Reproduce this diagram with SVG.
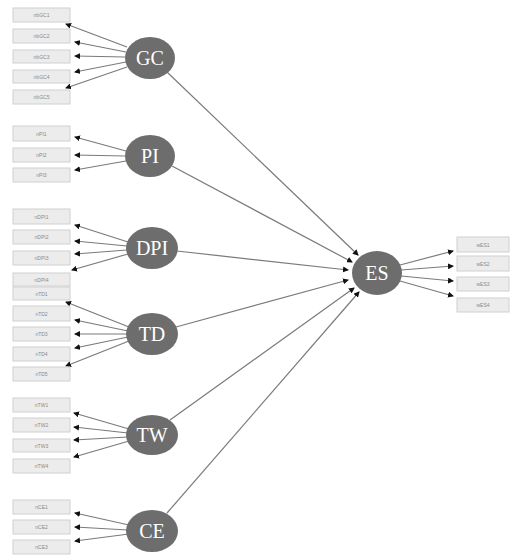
<svg xmlns="http://www.w3.org/2000/svg" width="510" height="557" viewBox="0 0 510 557">
<style>
.box rect{fill:#ececec;stroke:#d0d0d0;stroke-width:1}
.box text{font-family:"Liberation Sans",Arial,sans-serif;font-size:5px;fill:#8a8a8a;text-anchor:middle}
.lv ellipse{fill:#6d6d6d}
.lv text{font-family:"Liberation Serif","Times New Roman",serif;font-size:20px;fill:#ffffff;text-anchor:middle}
#connectors line{stroke:#7a7a7a;stroke-width:1.2;marker-end:url(#ah)}
</style>
<defs>
<marker id="ah" markerUnits="userSpaceOnUse" markerWidth="6" markerHeight="6" refX="5" refY="3" orient="auto">
<path d="M0,0 L6,3 L0,6 z" fill="#111"/>
</marker>
</defs>
<rect width="510" height="557" fill="#ffffff"/>
<g id="connectors">
<line x1="127" y1="47" x2="66" y2="24"/>
<line x1="126" y1="52" x2="75" y2="42"/>
<line x1="125" y1="57" x2="75" y2="56"/>
<line x1="126" y1="62" x2="75" y2="72"/>
<line x1="127" y1="67" x2="66" y2="88"/>
<line x1="126" y1="151" x2="75" y2="137"/>
<line x1="125" y1="156" x2="75" y2="155"/>
<line x1="126" y1="161" x2="75" y2="170"/>
<line x1="128" y1="242" x2="75" y2="225"/>
<line x1="127" y1="246" x2="75" y2="241"/>
<line x1="127" y1="250" x2="75" y2="254"/>
<line x1="128" y1="254" x2="72" y2="270"/>
<line x1="129" y1="327" x2="66" y2="302"/>
<line x1="128" y1="331" x2="75" y2="320"/>
<line x1="127" y1="334" x2="75" y2="334"/>
<line x1="128" y1="337" x2="75" y2="348"/>
<line x1="129" y1="341" x2="66" y2="366"/>
<line x1="129" y1="429" x2="74" y2="413"/>
<line x1="128" y1="433" x2="74" y2="427"/>
<line x1="128" y1="437" x2="74" y2="440"/>
<line x1="129" y1="441" x2="74" y2="457"/>
<line x1="129" y1="525" x2="75" y2="513"/>
<line x1="128" y1="530" x2="75" y2="527"/>
<line x1="129" y1="534" x2="75" y2="541"/>
<line x1="167" y1="72" x2="358" y2="255"/>
<line x1="172" y1="166" x2="352" y2="262"/>
<line x1="177" y1="251" x2="348" y2="270"/>
<line x1="176" y1="327" x2="348" y2="280"/>
<line x1="170" y1="420" x2="354" y2="288"/>
<line x1="167" y1="513" x2="359" y2="292"/>
<line x1="400" y1="265" x2="453" y2="251"/>
<line x1="401" y1="270" x2="453" y2="266"/>
<line x1="401" y1="276" x2="453" y2="281"/>
<line x1="400" y1="281" x2="453" y2="296"/>
</g>
<g id="gc-items" class="box">
<rect x="13" y="8" width="57" height="14"/><text x="41.5" y="17">nbGC1</text>
<rect x="13" y="29" width="57" height="14"/><text x="41.5" y="38">nbGC2</text>
<rect x="13" y="50" width="57" height="13"/><text x="41.5" y="58.5">nbGC3</text>
<rect x="13" y="70" width="57" height="13"/><text x="41.5" y="78.5">nbGC4</text>
<rect x="13" y="90" width="57" height="14"/><text x="41.5" y="99">nbGC5</text>
</g>
<g id="pi-items" class="box">
<rect x="13" y="126" width="57" height="15"/><text x="41.5" y="135.5">nPI1</text>
<rect x="13" y="148" width="57" height="14"/><text x="41.5" y="157">nPI2</text>
<rect x="13" y="168" width="57" height="14"/><text x="41.5" y="177">nPI3</text>
</g>
<g id="dpi-items" class="box">
<rect x="13" y="209" width="57" height="15"/><text x="41.5" y="218.5">nDPI1</text>
<rect x="13" y="230" width="57" height="14"/><text x="41.5" y="239">nDPI2</text>
<rect x="13" y="251" width="57" height="14"/><text x="41.5" y="260">nDPI3</text>
<rect x="13" y="273" width="57" height="13"/><text x="41.5" y="281.5">nDPI4</text>
</g>
<g id="td-items" class="box">
<rect x="13" y="287" width="57" height="13"/><text x="41.5" y="295.5">nTD1</text>
<rect x="13" y="306" width="57" height="15"/><text x="41.5" y="315.5">nTD2</text>
<rect x="13" y="327" width="57" height="14"/><text x="41.5" y="336">nTD3</text>
<rect x="13" y="347" width="57" height="14"/><text x="41.5" y="356">nTD4</text>
<rect x="13" y="367" width="57" height="14"/><text x="41.5" y="376">nTD5</text>
</g>
<g id="tw-items" class="box">
<rect x="13" y="398" width="57" height="14"/><text x="41.5" y="407">nTW1</text>
<rect x="13" y="418" width="57" height="14"/><text x="41.5" y="427">nTW2</text>
<rect x="13" y="439" width="57" height="13"/><text x="41.5" y="447.5">nTW3</text>
<rect x="13" y="459" width="57" height="14"/><text x="41.5" y="468">nTW4</text>
</g>
<g id="ce-items" class="box">
<rect x="13" y="500" width="57" height="14"/><text x="41.5" y="509">nCE1</text>
<rect x="13" y="520" width="57" height="14"/><text x="41.5" y="529">nCE2</text>
<rect x="13" y="540" width="57" height="14"/><text x="41.5" y="549">nCE3</text>
</g>
<g id="es-items" class="box">
<rect x="457" y="237" width="52" height="15"/><text x="483" y="246.5">wES1</text>
<rect x="457" y="256" width="52" height="15"/><text x="483" y="265.5">wES2</text>
<rect x="457" y="277" width="52" height="14"/><text x="483" y="286">wES3</text>
<rect x="457" y="298" width="52" height="14"/><text x="483" y="307">wES4</text>
</g>
<g id="GC" class="lv"><ellipse cx="150" cy="58" rx="25" ry="21"/><text x="150" y="65">GC</text></g>
<g id="PI" class="lv"><ellipse cx="150" cy="156" rx="25" ry="21"/><text x="150" y="163">PI</text></g>
<g id="DPI" class="lv"><ellipse cx="152" cy="248" rx="26" ry="21"/><text x="152" y="255">DPI</text></g>
<g id="TD" class="lv"><ellipse cx="152" cy="334" rx="26" ry="21"/><text x="152" y="341">TD</text></g>
<g id="TW" class="lv"><ellipse cx="152" cy="435" rx="26" ry="20"/><text x="152" y="442">TW</text></g>
<g id="CE" class="lv"><ellipse cx="152" cy="531" rx="26" ry="21"/><text x="152" y="538">CE</text></g>
<g id="ES" class="lv"><ellipse cx="377" cy="273" rx="25" ry="22"/><text x="377" y="280">ES</text></g>
</svg>
